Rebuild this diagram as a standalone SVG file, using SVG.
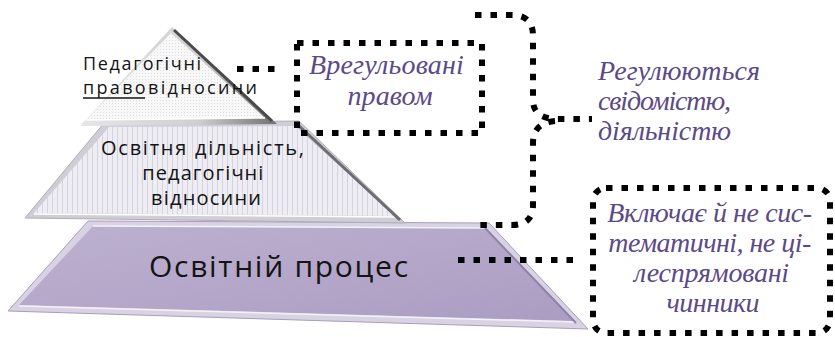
<svg xmlns="http://www.w3.org/2000/svg" width="835" height="337" viewBox="0 0 835 337">
<style>
.pyr{font-family:"Open Sans","Noto Sans","DejaVu Sans",sans-serif;fill:#141414}
.it{font-family:"Liberation Serif","DejaVu Serif",serif;font-style:italic;fill:#5c4a87}
.dot{fill:none;stroke:#000;stroke-width:6;stroke-dasharray:6.5 9}
</style>
<defs>
<pattern id="dots" width="3" height="3" patternUnits="userSpaceOnUse">
<rect width="3" height="3" fill="#f8f8f8"/>
<rect x="1" y="1" width="1" height="1" fill="#dedede"/>
</pattern>
<pattern id="stripes" width="5" height="5" patternUnits="userSpaceOnUse">
<rect width="5" height="5" fill="#eeedf3"/>
<rect x="2" width="1" height="5" fill="#d6d3de"/>
</pattern>
<linearGradient id="purple" x1="0" y1="0" x2="1" y2="1">
<stop offset="0" stop-color="#bdb1d0"/>
<stop offset="1" stop-color="#ab9dc2"/>
</linearGradient>
<linearGradient id="rimTop" x1="0" y1="0" x2="1" y2="0">
<stop offset="0" stop-color="#e6e6e6"/>
<stop offset="0.6" stop-color="#cfcfcf"/>
<stop offset="1" stop-color="#707070"/>
</linearGradient>
</defs>

<g id="node-bottom">
<polygon points="88,221 489,223 588,329 8,311" fill="#d9d2e3" stroke="#a89dba" stroke-width="1"/>
<polygon points="93,226 484,228 574,321 19,305" fill="url(#purple)"/>
<polyline points="93,226 484,228" fill="none" stroke="#f4f1f8" stroke-width="1.5"/>
<polyline points="19,306 574,322" fill="none" stroke="#f4f1f8" stroke-width="1.5"/>
<line x1="485" y1="228" x2="576" y2="323" stroke="#8f82a6" stroke-width="2"/>
<text class="pyr" x="149" y="277" font-size="30" textLength="259">Освітній процес</text>
</g>

<g id="node-middle">
<polygon points="104,123 299,121 405,223 25,218" fill="#cfcdd5" stroke="#aeacb5" stroke-width="1"/>
<polygon points="109,127 295,126 395,216 34,213" fill="url(#stripes)"/>
<polyline points="34,214 395,217" fill="none" stroke="#ffffff" stroke-width="1.5"/>
<line x1="297" y1="124" x2="400" y2="220" stroke="#6d6b74" stroke-width="3"/>
<text class="pyr" font-size="20" text-anchor="middle">
<tspan x="206" y="155" textLength="203">Освітня дільність,</tspan>
<tspan x="206" y="180" textLength="121">педагогічні</tspan>
<tspan x="206" y="205" textLength="110">відносини</tspan>
</text>
</g>

<g id="node-top">
<polygon points="172,27 277,124 80,126" fill="url(#rimTop)"/>
<polygon points="171,33 265,118 86,120" fill="url(#dots)"/>
<polyline points="86,120 265,118" fill="none" stroke="#ffffff" stroke-width="1.5"/>
<line x1="174" y1="30" x2="272" y2="121" stroke="#4a4a4a" stroke-width="3"/>
<text class="pyr" font-size="18">
<tspan x="83" y="70" textLength="118">Педагогічні</tspan>
<tspan x="83" y="94" textLength="174">правовідносини</tspan>
</text>
<line x1="83" y1="98" x2="145" y2="98" stroke="#141414" stroke-width="1.3"/>
</g>

<g id="connectors">
<line class="dot" x1="237" y1="69" x2="281" y2="69"/>
<path class="dot" d="M475,15 H512 Q533,15 533,36 V100 Q533,118 555,119 H592"/>
<path class="dot" d="M555,121 Q533,123 533,143 V205 Q533,225 512,225 H475"/>
<line class="dot" x1="458" y1="260" x2="580" y2="260"/>
</g>

<g id="node-box1">
<rect class="dot" x="297" y="43" width="185" height="90"/>
<text class="it" font-size="28" text-anchor="middle">
<tspan x="390" y="74" textLength="155">Врегульовані</tspan>
<tspan x="390" y="105" textLength="85">правом</tspan>
</text>
</g>

<g id="node-label2">
<text class="it" font-size="28">
<tspan x="598" y="80" textLength="162">Регулюються</tspan>
<tspan x="598" y="110" textLength="133">свідомістю,</tspan>
<tspan x="598" y="140" textLength="133">діяльністю</tspan>
</text>
</g>

<g id="node-box3">
<rect class="dot" x="593" y="188" width="237" height="145" rx="13"/>
<text class="it" font-size="28" text-anchor="middle">
<tspan x="713" y="222" textLength="205">Включає й не сис-</tspan>
<tspan x="713" y="252" textLength="203">тематичні, не ці-</tspan>
<tspan x="715" y="282" textLength="155">леспрямовані</tspan>
<tspan x="713" y="312" textLength="93">чинники</tspan>
</text>
</g>
</svg>
